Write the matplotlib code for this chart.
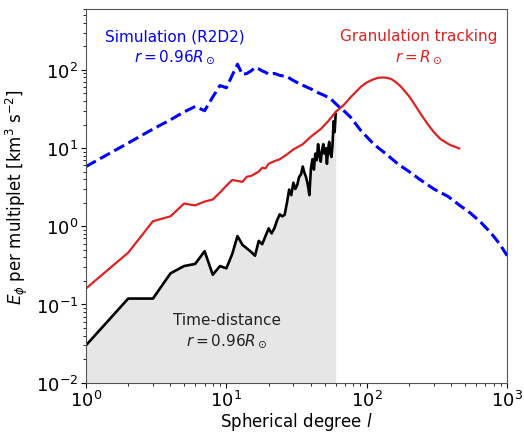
import matplotlib
matplotlib.use("Agg")
import matplotlib.pyplot as plt

# Simulation (R2D2), blue dashed
l_sim = [1, 2, 3, 4, 5, 6, 7, 8, 9, 10, 11, 12, 13, 14, 15, 16, 17, 18, 19, 20,
         22, 24, 27, 30, 34, 40, 45, 50, 55, 62, 70, 77, 90, 112, 135, 166, 200,
         242, 300, 380, 450, 550, 650, 770, 880, 1000]
E_sim = [5.8, 11.6, 17.5, 23, 29, 34, 30, 45, 63, 59, 85, 118, 87, 90, 97, 107, 103, 97, 93, 88,
         90, 85, 82, 73, 65, 57, 51, 47, 43, 35, 29, 24.6, 17, 11.2, 8.6, 6.3, 5.0,
         3.9, 3.0, 2.4, 1.9, 1.46, 1.12, 0.81, 0.6, 0.42]

# Granulation tracking, red
l_gran = [1, 2, 3, 4, 5, 6, 7, 8, 9, 10, 11, 12, 13, 14, 15, 16, 17, 18, 19, 20,
          22, 24, 27, 30, 35, 40, 47, 53, 60, 68, 77, 91, 100, 110, 120, 130, 140, 150,
          162, 175, 200, 215, 240, 270, 300, 335, 390, 455]
E_gran = [0.16, 0.46, 1.16, 1.34, 1.95, 1.85, 2.07, 2.2, 2.7, 3.3, 3.9, 3.8, 3.7, 4.3, 4.4, 4.7, 5.0, 5.6, 5.5, 6.3,
          6.8, 7.2, 8.3, 9.6, 11.2, 14, 17.5, 22, 29, 35, 45, 61, 69, 75, 79, 80, 79, 76,
          69, 61, 46, 38, 28, 20.5, 16, 13, 11, 9.9]

# Time-distance, black
l_td = list(range(1, 61))
E_td = [0.030, 0.119, 0.119, 0.25, 0.31, 0.33, 0.48, 0.24, 0.31, 0.29,
        0.44, 0.75, 0.58, 0.52, 0.47, 0.42, 0.65, 0.59, 0.75, 0.94,
        0.81, 0.95, 1.2, 1.42, 1.34, 1.4, 2.0, 2.95, 2.5, 3.6,
        3.0, 3.4, 4.3, 4.6, 5.8, 4.8, 4.2, 3.4, 2.5, 5.5,
        7.2, 5.3, 8.5, 7.0, 11.2, 8.0, 6.7, 9.5, 11.2, 8.5,
        10, 6.3, 9.6, 12, 8.5, 7.7, 11, 22, 16, 27]

fig = plt.figure(figsize=(5.24, 4.35), dpi=100)
ax = fig.add_axes([0.164, 0.118, 0.804, 0.859])

ax.fill_between(l_td, 1e-2, E_td, color='0.9', lw=0)
ax.plot(l_td, E_td, color='black', lw=1.9)
ax.plot(l_gran, E_gran, color='#dd2222', lw=1.6)
ax.plot(l_sim, E_sim, color='blue', lw=2.2, ls='--')

ax.set_xscale('log')
ax.set_yscale('log')
ax.set_xlim(1, 1000)
ax.set_ylim(1e-2, 600)

ax.text(0.21, 0.90, 'Simulation (R2D2)\n$r=0.96R_\\odot$', color='blue',
        ha='center', va='center', transform=ax.transAxes, fontsize=11, linespacing=1.25)
ax.text(0.79, 0.90, 'Granulation tracking\n$r=R_\\odot$', color='#dd2222',
        ha='center', va='center', transform=ax.transAxes, fontsize=11, linespacing=1.25)
ax.text(0.335, 0.14, 'Time-distance\n$r=0.96R_\\odot$', color='#222222',
        ha='center', va='center', transform=ax.transAxes, fontsize=11, linespacing=1.25)

ax.set_xlabel('Spherical degree $l$', fontsize=12, labelpad=0)
ax.set_ylabel('$E_\\phi$ per multiplet [km$^3$ s$^{-2}$]', fontsize=12, labelpad=4)
ax.tick_params(labelsize=13, pad=2)
for s in ax.spines.values():
    s.set_color('#555555')

fig.savefig('out.png', dpi=100)
